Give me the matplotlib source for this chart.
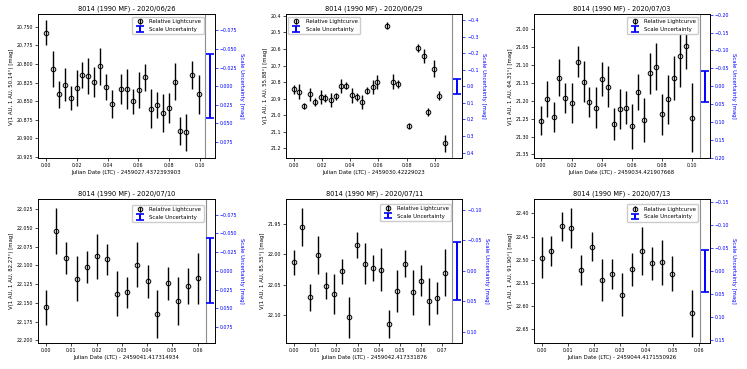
import matplotlib
matplotlib.use("Agg")
import matplotlib.pyplot as plt

# Lightcurves of 8014 (1990 MF), one list per night
# time = JD - offset, mag = reduced V magnitude, err = 1 sigma

t_0626 = [0.0000, 0.0041, 0.0080, 0.0120, 0.0159, 0.0198, 0.0233, 0.0272, 0.0311,
          0.0350, 0.0389, 0.0428, 0.0485, 0.0524, 0.0565, 0.0605, 0.0644, 0.0683,
          0.0722, 0.0761, 0.0800, 0.0839, 0.0874, 0.0913, 0.0952, 0.0992]
m_0626 = [20.758, 20.807, 20.841, 20.828, 20.846, 20.832, 20.815, 20.816, 20.824,
          20.803, 20.831, 20.854, 20.834, 20.834, 20.850, 20.835, 20.818, 20.860,
          20.855, 20.866, 20.859, 20.824, 20.890, 20.892, 20.815, 20.841]
e_0626 = [0.017, 0.024, 0.018, 0.022, 0.016, 0.024, 0.017, 0.024, 0.020,
          0.025, 0.017, 0.019, 0.020, 0.027, 0.017, 0.024, 0.018, 0.026,
          0.017, 0.025, 0.020, 0.025, 0.019, 0.025, 0.019, 0.026]

t_0629 = [0.0000, 0.0038, 0.0075, 0.0113, 0.0151, 0.0189, 0.0224, 0.0261, 0.0298,
          0.0334, 0.0372, 0.0409, 0.0447, 0.0485, 0.0522, 0.0558, 0.0593, 0.0661,
          0.0704, 0.0739, 0.0815, 0.0883, 0.0920, 0.0955, 0.0992, 0.1030, 0.1070]
m_0629 = [20.844, 20.858, 20.943, 20.874, 20.919, 20.890, 20.893, 20.909, 20.886,
          20.824, 20.822, 20.880, 20.890, 20.921, 20.852, 20.830, 20.800, 20.460,
          20.798, 20.810, 21.065, 20.597, 20.643, 20.979, 20.718, 20.882, 21.170]
e_0629 = [0.028, 0.045, 0.020, 0.040, 0.026, 0.043, 0.024, 0.042, 0.022,
          0.042, 0.021, 0.043, 0.022, 0.043, 0.021, 0.043, 0.043, 0.021,
          0.046, 0.023, 0.020, 0.024, 0.042, 0.024, 0.050, 0.028, 0.050]

t_0703 = [0.0000, 0.0040, 0.0081, 0.0119, 0.0159, 0.0200, 0.0240, 0.0280, 0.0319,
          0.0359, 0.0401, 0.0441, 0.0480, 0.0520, 0.0559, 0.0599, 0.0641, 0.0681,
          0.0720, 0.0760, 0.0800, 0.0841, 0.0881, 0.0921, 0.0960, 0.1000]
m_0703 = [21.256, 21.195, 21.245, 21.135, 21.193, 21.206, 21.091, 21.147, 21.203,
          21.219, 21.140, 21.161, 21.264, 21.222, 21.219, 21.271, 21.175, 21.253,
          21.123, 21.105, 21.238, 21.196, 21.137, 21.075, 21.047, 21.247]
e_0703 = [0.040, 0.051, 0.041, 0.053, 0.042, 0.057, 0.043, 0.057, 0.042,
          0.057, 0.048, 0.057, 0.045, 0.056, 0.046, 0.063, 0.051, 0.061,
          0.057, 0.066, 0.058, 0.068, 0.061, 0.086, 0.065, 0.096]

t_0710 = [0.0001, 0.0041, 0.0080, 0.0122, 0.0163, 0.0202, 0.0242, 0.0282,
          0.0321, 0.0361, 0.0402, 0.0441, 0.0481, 0.0522, 0.0561, 0.0601]
m_0710 = [22.156, 22.054, 22.090, 22.118, 22.102, 22.088, 22.092, 22.138,
          22.136, 22.099, 22.121, 22.165, 22.124, 22.148, 22.127, 22.117]
e_0710 = [0.023, 0.031, 0.021, 0.030, 0.021, 0.030, 0.021, 0.030,
          0.021, 0.030, 0.022, 0.032, 0.022, 0.032, 0.024, 0.034]

t_0711 = [0.0000, 0.0038, 0.0075, 0.0113, 0.0150, 0.0188, 0.0226, 0.0261, 0.0299,
          0.0336, 0.0374, 0.0412, 0.0449, 0.0487, 0.0524, 0.0562, 0.0600, 0.0637,
          0.0675, 0.0712]
m_0711 = [22.013, 21.955, 22.070, 22.001, 22.051, 22.065, 22.028, 22.103, 21.985,
          22.015, 22.022, 22.025, 22.114, 22.060, 22.015, 22.062, 22.043, 22.077,
          22.071, 22.030]
e_0711 = [0.020, 0.031, 0.022, 0.031, 0.022, 0.033, 0.021, 0.034, 0.021,
          0.034, 0.021, 0.035, 0.023, 0.035, 0.022, 0.037, 0.025, 0.039,
          0.026, 0.038]

t_0713 = [0.0000, 0.0036, 0.0076, 0.0114, 0.0152, 0.0191, 0.0230, 0.0268,
          0.0305, 0.0343, 0.0383, 0.0421, 0.0459, 0.0498, 0.0573]
m_0713 = [22.496, 22.481, 22.428, 22.432, 22.523, 22.472, 22.545, 22.531,
          22.576, 22.521, 22.481, 22.508, 22.506, 22.531, 22.617]
e_0713 = [0.044, 0.032, 0.032, 0.043, 0.033, 0.031, 0.046, 0.033,
          0.046, 0.036, 0.052, 0.036, 0.049, 0.038, 0.052]

dates = ["2020/06/26", "2020/06/29", "2020/07/03", "2020/07/10", "2020/07/11", "2020/07/13"]
jd_offsets = ["2459027.4372393903", "2459030.42229023", "2459034.421907668",
              "2459041.417314934", "2459042.417331876", "2459044.4171550926"]
phase_angles = ["50.14", "55.88", "64.31", "82.27", "85.35", "91.90"]
scale_unc = [0.043, 0.045, 0.044, 0.0435, 0.048, 0.045]

nights = [(t_0626, m_0626, e_0626), (t_0629, m_0629, e_0629), (t_0703, m_0703, e_0703),
          (t_0710, m_0710, e_0710), (t_0711, m_0711, e_0711), (t_0713, m_0713, e_0713)]

# layout (axes limits, separator line, scale bar position)
xlims = [(-0.0052, 0.1096), (-0.0056, 0.1195), (-0.0050, 0.1116),
         (-0.0031, 0.0667), (-0.0038, 0.0795), (-0.0030, 0.0642)]
ylims = [(20.927, 20.733), (21.260, 20.390), (21.361, 20.958),
         (22.2035, 22.011), (22.145, 21.909), (22.681, 22.368)]
sep_x = [0.1037, 0.1120, 0.1050, 0.0632, 0.0745, 0.0604]
bar_x = [0.1066, 0.1160, 0.1083, 0.0650, 0.0771, 0.0623]
leg_loc = ["upper right", "upper left", "upper right", "upper right", "upper right", "upper right"]
leg_anchor = [(0.9375, 0.979), (0.013, 0.979), (0.934, 0.979),
              (0.9375, 0.956), (0.938, 0.965), (0.934, 0.96)]

fig = plt.figure(figsize=(7.47, 3.69), dpi=100)

col_left = [0.0513, 0.3829, 0.7145]
row_bottom = [0.5707, 0.0705]
ax_w, ax_h = 0.2359, 0.3910

for i, (t, m, e) in enumerate(nights):
    ax = fig.add_axes([col_left[i % 3], row_bottom[i // 3], ax_w, ax_h])
    h1 = ax.errorbar(t, m, yerr=e, fmt="o", mfc="none", mec="k", ms=3.3, mew=0.7,
                     ecolor="k", elinewidth=1.0, label="Relative Lightcurve")
    ax.axvline(sep_x[i], color="0.55", lw=0.8)
    ax.set_xlim(*xlims[i])
    ax.set_ylim(*ylims[i])
    ax.set_title(f"8014 (1990 MF) - {dates[i]}", fontsize=4.8, pad=2.5)
    ax.set_xlabel(f"Julian Date (LTC) - {jd_offsets[i]}", fontsize=3.9, labelpad=1.5)
    ax.set_ylabel(f"V(1 AU, 1 AU, {phase_angles[i]}°) [mag]", fontsize=3.9, labelpad=2)
    ax.tick_params(labelsize=3.4, length=2, width=0.5, pad=1.5)
    for sp in ax.spines.values():
        sp.set_linewidth(0.6)

    # right axis: same scale, centred on the middle of the plotted range
    lo, hi = ylims[i]
    mid = (lo + hi) / 2
    tw = ax.twinx()
    tw.set_ylim(lo - mid, hi - mid)
    h2 = tw.errorbar([bar_x[i]], [0.0], yerr=[scale_unc[i]], fmt="none", ecolor="blue",
                     elinewidth=1.4, capsize=3, capthick=1.2, label="Scale Uncertainty")
    tw.set_ylabel("Scale Uncertainty [mag]", color="blue", fontsize=3.9,
                  rotation=270, labelpad=5)
    tw.tick_params(axis="y", colors="blue", labelsize=3.4, length=2, width=0.5, pad=1.5)
    for sp in tw.spines.values():
        sp.set_linewidth(0.6)

    tw.legend([h1, h2], ["Relative Lightcurve", "Scale Uncertainty"], loc=leg_loc[i],
              bbox_to_anchor=leg_anchor[i], borderaxespad=0, fontsize=3.9,
              framealpha=1, edgecolor="0.8")

fig.savefig("out.png", dpi=100)
